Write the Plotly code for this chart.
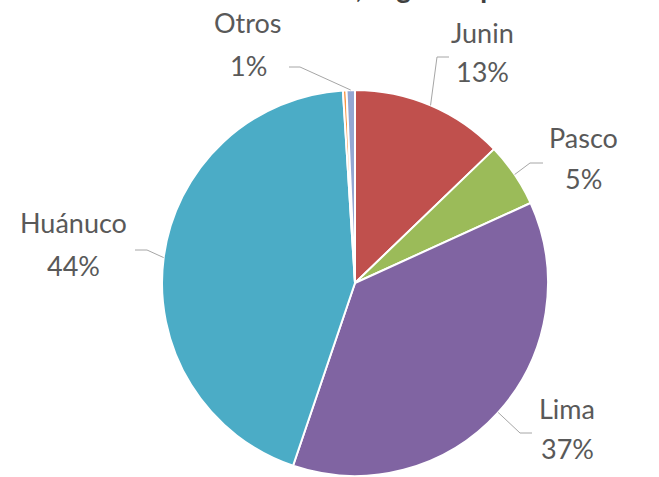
import math
import plotly.graph_objects as go

# ---- data ----
categories = ["Junin", "Pasco", "Lima", "Huánuco", "Otros2", "Otros"]
values = [12.8, 5.4, 37.0, 43.8, 0.3, 0.7]
colors = ["#C0504D", "#9BBB59", "#8064A2", "#4BACC6", "#F79646", "#94A7D3"]
title_text = "Producción, según departamento"

W, H = 659, 477
# pie geometry (pixels)
CX, CY, R = 355, 283, 193

# label placement (pixel centres of text) and elbow of leader line
label_pos = {
    "Junin":   dict(tx=482, ty=32, py=72, elbow=(437, 57), end=(449, 57)),
    "Pasco":   dict(tx=583, ty=137, py=178, elbow=(530, 163), end=(543, 163)),
    "Lima":    dict(tx=567, ty=408, py=448, elbow=(520, 433), end=(532, 433)),
    "Huánuco": dict(tx=73, ty=222, py=265, elbow=(147, 250), end=(135, 250)),
    "Otros":   dict(tx=248, ty=22, py=65, elbow=(300, 67), end=(289, 67)),
}

def px(x):
    return x / W

def py_(y):
    return 1 - y / H

fig = go.Figure(go.Pie(
    labels=categories, values=values, sort=False, direction="clockwise",
    rotation=0, marker=dict(colors=colors, line=dict(color="white", width=2)),
    textinfo="none", hoverinfo="label+percent",
    domain=dict(x=[px(CX - R), px(CX + R)], y=[py_(CY + R), py_(CY - R)]),
))

total = sum(values)
cum = 0.0
annotations = []
shapes = []
font = dict(family="Lato, Open Sans, sans-serif", size=27, color="#595959")
for cat, v in zip(categories, values):
    mid = (cum + v / 2) / total * 2 * math.pi
    cum += v
    if cat not in label_pos:
        continue
    lp = label_pos[cat]
    ax = CX + R * math.sin(mid)
    ay = CY - R * math.cos(mid)
    ex, ey = lp["elbow"]
    fx, fy = lp["end"]
    shapes.append(dict(
        type="path", xref="paper", yref="paper",
        path=f"M {px(ax)},{py_(ay)} L {px(ex)},{py_(ey)} L {px(fx)},{py_(fy)}",
        line=dict(color="#A6A6A6", width=1),
    ))
    pct = round(v / total * 100)
    annotations.append(dict(x=px(lp["tx"]), y=py_(lp["ty"]), xref="paper", yref="paper",
                            text=cat, showarrow=False, font=font,
                            xanchor="center", yanchor="middle"))
    annotations.append(dict(x=px(lp["tx"]), y=py_(lp["py"]), xref="paper", yref="paper",
                            text=f"{pct}%", showarrow=False, font=font,
                            xanchor="center", yanchor="middle"))

# partially visible title at the very top (only descenders show)
annotations.append(dict(x=px(213), y=py_(5.5), xref="paper", yref="paper",
                        text=f"<b>{title_text}</b>", showarrow=False,
                        font=dict(family="Lato, sans-serif", size=28, color="#404040"),
                        xanchor="left", yanchor="bottom"))

fig.update_layout(
    width=W, height=H, margin=dict(l=0, r=0, t=0, b=0),
    paper_bgcolor="white", plot_bgcolor="white", showlegend=False,
    annotations=annotations, shapes=shapes,
)
fig.write_html("out.html", config={"displayModeBar": False},
               post_script="document.body.style.margin='0';")
